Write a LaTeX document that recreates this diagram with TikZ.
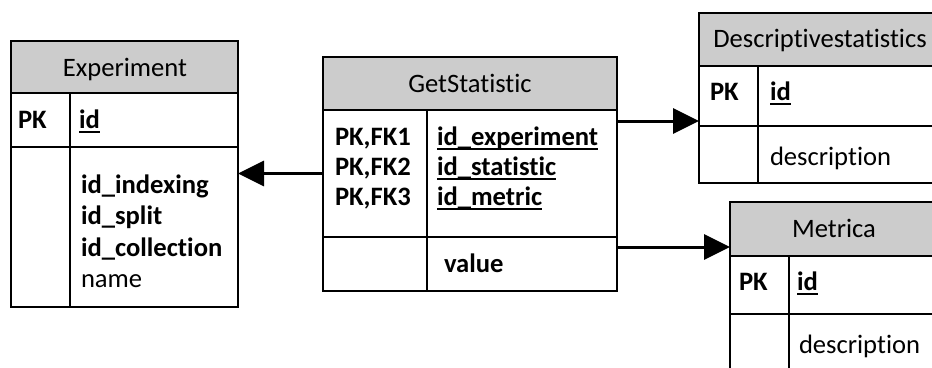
\documentclass[tikz,border=0pt]{standalone}
\usepackage{fontspec}
\setmainfont{Carlito}[Ligatures={NoCommon,NoContextual}]
\usetikzlibrary{arrows.meta,calc}
\newsavebox\ulbox
\newcommand{\myul}[1]{\sbox\ulbox{#1}\rlap{\rule[-5pt]{\wd\ulbox}{1.8pt}}\usebox\ulbox}
\begin{document}
\begin{tikzpicture}[x=1pt,y=-1pt,
  cell/.style={draw=black, line width=1.9pt, anchor=north west, inner sep=0pt, outer sep=0pt},
  headcell/.style={cell, fill=black!20},
  txt/.style={anchor=base west, inner sep=0pt, outer sep=0pt, font=\fontsize{26.6}{31}\selectfont},
  ttl/.style={anchor=base, inner sep=0pt, outer sep=0pt, font=\fontsize{26.6}{31}\selectfont},
  conn/.style={line width=3pt, -{Triangle[length=26pt,width=25pt]}},
  divider/.style={line width=1.9pt}]
\clip (0,0) rectangle (932,367);
\fill[white] (0,0) rectangle (932,367);

% ---- Experiment
\node[headcell, minimum width=227pt, minimum height=52pt] (exphead) at (11,41) {};
\node[cell, minimum width=227pt, minimum height=54pt] (exppk) at (11,93) {};
\node[cell, minimum width=227pt, minimum height=160pt] (expattr) at (11,147) {};
\draw[divider] ($(exppk.north west)+(59,0)$) -- ($(expattr.south west)+(59,0)$);
\node[ttl] (expt) at (125,76) {Experiment};
\node[txt] (exppkt) at (18,128) {\bfseries PK};
\node[txt] (expid) at (79,128) {\bfseries\myul{id}};
\node[txt] (expa1) at (81,193) {\bfseries id\_indexing};
\node[txt] (expa2) at (81,224.5) {\bfseries id\_split};
\node[txt] (expa3) at (81,256) {\bfseries id\_collection};
\node[txt] (expa4) at (81,287.5) {name};

% ---- GetStatistic
\node[headcell, minimum width=294pt, minimum height=53pt] (gshead) at (323,57) {};
\node[cell, minimum width=294pt, minimum height=127pt] (gskeys) at (323,110) {};
\node[cell, minimum width=294pt, minimum height=54pt] (gsval) at (323,237) {};
\draw[divider] ($(gskeys.north west)+(104,0)$) -- ($(gsval.south west)+(104,0)$);
\node[ttl] (gst) at (470,92) {GetStatistic};
\node[txt] (gsk1) at (335,145) {\bfseries PK,FK1};
\node[txt] (gsk2) at (335,175) {\bfseries PK,FK2};
\node[txt] (gsk3) at (335,205) {\bfseries PK,FK3};
\node[txt] (gsa1) at (437,145) {\bfseries\myul{id\_experiment}};
\node[txt] (gsa2) at (437,175) {\bfseries\myul{id\_statistic}};
\node[txt] (gsa3) at (437,205) {\bfseries\myul{id\_metric}};
\node[txt] (gsv) at (444,272) {\bfseries value};

% ---- Descriptivestatistics
\node[headcell, minimum width=242pt, minimum height=53pt] (dshead) at (699,13) {};
\node[cell, minimum width=242pt, minimum height=60pt] (dspk) at (699,66) {};
\node[cell, minimum width=242pt, minimum height=57pt] (dsdesc) at (699,126) {};
\draw[divider] ($(dspk.north west)+(59,0)$) -- ($(dsdesc.south west)+(59,0)$);
\node[ttl] (dst) at (820,47) {Descriptivestatistics};
\node[txt] (dspkt) at (710,100) {\bfseries PK};
\node[txt] (dsid) at (770,100) {\bfseries\myul{id}};
\node[txt] (dsd) at (770,165) {description};

% ---- Metrica
\node[headcell, minimum width=208pt, minimum height=54pt] (mhead) at (730,202) {};
\node[cell, minimum width=208pt, minimum height=58pt] (mpk) at (730,256) {};
\node[cell, minimum width=208pt, minimum height=80pt] (mdesc) at (730,314) {};
\draw[divider] ($(mpk.north west)+(59,0)$) -- ($(mdesc.south west)+(59,0)$);
\node[ttl] (mt) at (834,237) {Metrica};
\node[txt] (mpkt) at (739,290) {\bfseries PK};
\node[txt] (mid) at (797,290) {\bfseries\myul{id}};
\node[txt] (md) at (799,353) {description};

% ---- connectors
\draw[conn] (gskeys.west) -- (gskeys.west -| expattr.east);
\coordinate (s1) at ([yshift=-11pt]gskeys.north east);
\draw[conn] (s1) -- (s1 -| dspk.west);
\coordinate (s2) at ([yshift=-10pt]gsval.north east);
\draw[conn] (s2) -- (s2 -| mhead.west);
\end{tikzpicture}
\end{document}
